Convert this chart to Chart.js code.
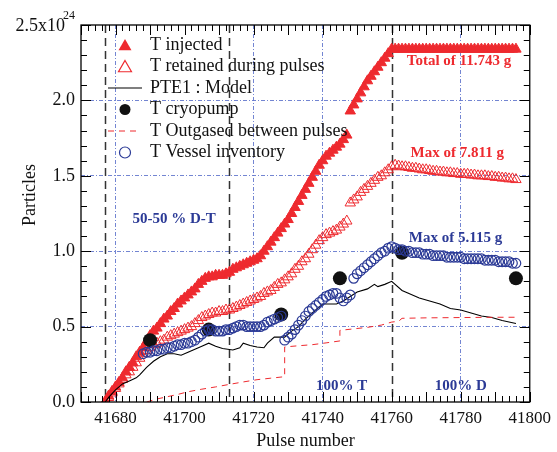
<!DOCTYPE html>
<html>
<head>
<meta charset="utf-8">
<script src="https://cdn.jsdelivr.net/npm/chart.js@4.4.1/dist/chart.umd.min.js"></script>
<style>
  html, body { margin: 0; padding: 0; background: #fff; }
  canvas { display: block; }
</style>
</head>
<body>
<canvas id="chart" width="557" height="452"></canvas>
<script>
// pulse numbers (one shot per pulse)
const pulses = [
  41677, 41678, 41679, 41680, 41681, 41682, 41683, 41684, 41685, 41686,
  41687, 41688, 41689, 41690, 41691, 41692, 41693, 41694, 41695, 41696,
  41697, 41698, 41699, 41700, 41701, 41702, 41703, 41704, 41705, 41706,
  41707, 41708, 41709, 41710, 41711, 41712, 41713, 41714, 41715, 41716,
  41717, 41718, 41719, 41720, 41721, 41722, 41723, 41724, 41725, 41726,
  41727, 41728, 41729, 41730, 41731, 41732, 41733, 41734, 41735, 41736,
  41737, 41738, 41739, 41740, 41741, 41742, 41743, 41744, 41745, 41746,
  41747, 41748, 41749, 41750, 41751, 41752, 41753, 41754, 41755, 41756,
  41757, 41758, 41759, 41760, 41761, 41762, 41763, 41764, 41765, 41766,
  41767, 41768, 41769, 41770, 41771, 41772, 41773, 41774, 41775, 41776,
  41777, 41778, 41779, 41780, 41781, 41782, 41783, 41784, 41785, 41786,
  41787, 41788, 41789, 41790, 41791, 41792, 41793, 41794, 41795, 41796
];

// particles, x10^24
const injected = [
  0.00, 0.04, 0.07, 0.10, 0.13, 0.16, 0.20, 0.23, 0.26, 0.30,
  0.33, 0.36, 0.40, 0.44, 0.47, 0.49, 0.52, 0.55, 0.57, 0.60,
  0.62, 0.65, 0.67, 0.69, 0.71, 0.73, 0.75, 0.78, 0.80, 0.82,
  0.83, 0.83, 0.84, 0.84, 0.84, 0.85, 0.86, 0.88, 0.89, 0.90,
  0.91, 0.92, 0.93, 0.94, 0.95, 0.97, 1.00, 1.03, 1.06, 1.09,
  1.12, 1.15, 1.18, 1.21, 1.25, 1.29, 1.33, 1.37, 1.41, 1.45,
  1.49, 1.53, 1.57, 1.60, 1.63, 1.65, 1.67, 1.69, 1.71, 1.74,
  1.77, 1.93, 1.97, 2.01, 2.05, 2.09, 2.13, 2.16, 2.19, 2.22,
  2.25, 2.28, 2.31, 2.34, 2.34, 2.34, 2.34, 2.34, 2.34, 2.34,
  2.34, 2.34, 2.34, 2.34, 2.34, 2.34, 2.34, 2.34, 2.34, 2.34,
  2.34, 2.34, 2.34, 2.34, 2.34, 2.34, 2.34, 2.34, 2.34, 2.34,
  2.34, 2.34, 2.34, 2.34, 2.34, 2.34, 2.34, 2.34, 2.34, 2.34
];

const retained = [
  0.00, 0.03, 0.06, 0.09, 0.12, 0.15, 0.18, 0.20, 0.23, 0.26,
  0.29, 0.32, 0.34, 0.36, 0.38, 0.39, 0.40, 0.41, 0.43, 0.44,
  0.45, 0.46, 0.47, 0.48, 0.49, 0.50, 0.52, 0.54, 0.56, 0.57,
  0.58, 0.59, 0.59, 0.60, 0.60, 0.61, 0.61, 0.62, 0.63, 0.64,
  0.65, 0.66, 0.67, 0.68, 0.69, 0.70, 0.72, 0.73, 0.74, 0.76,
  0.78, 0.79, 0.81, 0.83, 0.85, 0.88, 0.90, 0.93, 0.95, 0.98,
  1.01, 1.04, 1.07, 1.09, 1.11, 1.12, 1.13, 1.14, 1.16, 1.18,
  1.20, 1.32, 1.34, 1.36, 1.39, 1.41, 1.43, 1.45, 1.47, 1.49,
  1.50, 1.52, 1.54, 1.56, 1.57, 1.565, 1.56, 1.56, 1.555, 1.55,
  1.55, 1.545, 1.54, 1.54, 1.535, 1.53, 1.53, 1.525, 1.525, 1.52,
  1.52, 1.515, 1.515, 1.51, 1.51, 1.51, 1.505, 1.505, 1.50, 1.50,
  1.50, 1.495, 1.495, 1.49, 1.49, 1.485, 1.485, 1.48, 1.48, 1.475
];

// vessel inventory starts at pulse 41688
const vesselPulses = pulses.slice(11);
const vessel = [
  0.32, 0.33, 0.33, 0.34, 0.34, 0.35, 0.35, 0.36, 0.36,
  0.37, 0.38, 0.38, 0.39, 0.39, 0.40, 0.41, 0.43, 0.45, 0.47,
  0.48, 0.48, 0.47, 0.47, 0.47, 0.48, 0.48, 0.49, 0.50, 0.51,
  0.51, 0.50, 0.50, 0.50, 0.50, 0.50, 0.51, 0.53, 0.54, 0.55,
  0.56, 0.57, 0.41, 0.43, 0.45, 0.48, 0.51, 0.54, 0.57, 0.60,
  0.62, 0.64, 0.66, 0.68, 0.70, 0.71, 0.72, 0.72, 0.69, 0.67,
  0.69, 0.71, 0.82, 0.85, 0.87, 0.89, 0.91, 0.93, 0.95, 0.97,
  0.99, 1.00, 1.02, 1.03, 1.02, 1.01, 1.01, 1.00, 1.00, 0.99,
  0.99, 0.99, 0.98, 0.98, 0.98, 0.97, 0.97, 0.97, 0.97, 0.96,
  0.96, 0.96, 0.96, 0.96, 0.95, 0.95, 0.95, 0.95, 0.95, 0.95,
  0.94, 0.94, 0.94, 0.94, 0.93, 0.93, 0.93, 0.93, 0.92, 0.92
];

const cryoPulses = [41690, 41707, 41728, 41745, 41763, 41796];
const cryo = [0.41, 0.48, 0.58, 0.82, 0.99, 0.82];

const modelPulses = [
  41677, 41678, 41680, 41682, 41684, 41686, 41687, 41689, 41691, 41693,
  41695, 41697, 41699, 41701, 41703, 41705, 41707, 41709, 41711, 41714,
  41716, 41717, 41719, 41721, 41723, 41724, 41726, 41729, 41731, 41733,
  41735, 41737, 41740, 41744, 41746, 41748, 41750, 41753, 41755, 41756,
  41758, 41760, 41763, 41765, 41768, 41771, 41774, 41777, 41780, 41783,
  41786, 41789, 41792, 41796
];
const model = [
  0.00, 0.03, 0.08, 0.12, 0.14, 0.16, 0.18, 0.23, 0.27, 0.30,
  0.32, 0.32, 0.31, 0.33, 0.35, 0.37, 0.39, 0.37, 0.355, 0.345,
  0.36, 0.39, 0.375, 0.365, 0.36, 0.39, 0.43, 0.43, 0.47, 0.50,
  0.55, 0.59, 0.65, 0.65, 0.67, 0.70, 0.73, 0.75, 0.78, 0.765,
  0.78, 0.80, 0.74, 0.72, 0.69, 0.67, 0.65, 0.62, 0.61, 0.59,
  0.57, 0.56, 0.54, 0.52
];

const outgasPulses = [
  41689, 41692, 41695, 41698, 41701, 41705, 41709, 41713, 41717, 41721,
  41725, 41729, 41729, 41733, 41737, 41741, 41745, 41745, 41749, 41753,
  41757, 41760, 41762, 41763, 41770, 41780, 41790, 41796
];
const outgassed = [
  0.00, 0.02, 0.035, 0.05, 0.068, 0.085, 0.10, 0.117, 0.133, 0.148,
  0.158, 0.168, 0.365, 0.373, 0.38, 0.392, 0.405, 0.475, 0.485, 0.495,
  0.51, 0.53, 0.535, 0.555, 0.558, 0.56, 0.562, 0.562
];

// campaign boundaries
const phaseLines = [41677, 41713, 41760];

const xTicks = [41680, 41700, 41720, 41740, 41760, 41780, 41800];
const xGridAt = [41680, 41720, 41740, 41780];
const yTicks = [0, 0.5, 1.0, 1.5, 2.0, 2.5];

const legendLabels = [
  'T injected',
  'T retained during pulses',
  'PTE1 : Model',
  'T cryopump',
  'T Outgased between pulses',
  'T Vessel inventory'
];

const RED = '#ee2a2f';
const BLUE = '#2b3a96';
const GRID = 'rgba(100,120,205,0.9)';
const SERIF = "'Liberation Serif', 'Times New Roman', serif";

const notes = [
  { text: 'Total of 11.743 g', x: 41779.5, y: 2.26, color: RED },
  { text: 'Max of 7.811 g', x: 41779, y: 1.65, color: RED },
  { text: 'Max of 5.115 g', x: 41778.5, y: 1.09, color: BLUE },
  { text: '50-50 % D-T', x: 41697, y: 1.21, color: BLUE },
  { text: '100% T', x: 41745.5, y: 0.106, color: BLUE },
  { text: '100% D', x: 41780, y: 0.106, color: BLUE }
];

function xy(xs, ys) {
  return ys.map((v, i) => ({ x: xs[i], y: v }));
}

function triPath(ctx, x, y, r) {
  ctx.beginPath();
  ctx.moveTo(x, y - r);
  ctx.lineTo(x + r * 0.866, y + r / 2);
  ctx.lineTo(x - r * 0.866, y + r / 2);
  ctx.closePath();
}

const framePlugin = {
  id: 'frame',
  beforeDatasetsDraw(chart) {
    const { ctx, chartArea: a, scales: { x } } = chart;
    ctx.save();
    ctx.strokeStyle = '#333';
    ctx.lineWidth = 1.5;
    ctx.setLineDash([8, 5]);
    phaseLines.forEach(p => {
      const px = Math.round(x.getPixelForValue(p)) + 0.5;
      ctx.beginPath();
      ctx.moveTo(px, a.top);
      ctx.lineTo(px, a.bottom);
      ctx.stroke();
    });
    ctx.restore();
  },
  afterDraw(chart) {
    const { ctx, chartArea: a, scales: { x, y } } = chart;
    ctx.save();

    // box + inward ticks
    ctx.strokeStyle = '#000';
    ctx.lineWidth = 1.3;
    ctx.strokeRect(a.left, a.top, a.right - a.left, a.bottom - a.top);
    ctx.lineWidth = 1;
    ctx.beginPath();
    for (let i = 0; i <= 65; i++) {
      const v = 41670 + 2 * i;
      const len = v % 10 === 0 ? 10 : 6;
      const px = Math.round(x.getPixelForValue(v)) + 0.5;
      ctx.moveTo(px, a.bottom); ctx.lineTo(px, a.bottom - len);
      ctx.moveTo(px, a.top); ctx.lineTo(px, a.top + len);
    }
    for (let i = 0; i <= 25; i++) {
      const len = i % 5 === 0 ? 10 : 6;
      const py = Math.round(y.getPixelForValue(i / 10)) + 0.5;
      ctx.moveTo(a.left, py); ctx.lineTo(a.left + len, py);
      ctx.moveTo(a.right, py); ctx.lineTo(a.right - len, py);
    }
    ctx.stroke();

    // top y label with exponent
    ctx.fillStyle = '#111';
    ctx.textBaseline = 'middle';
    ctx.textAlign = 'right';
    ctx.font = '18px ' + SERIF;
    const yTop = y.getPixelForValue(2.5);
    ctx.fillText('2.5x10', a.left - 16, yTop + 1);
    ctx.font = '12px ' + SERIF;
    ctx.fillText('24', a.left - 6, yTop - 9);

    // axis titles
    ctx.font = '18px ' + SERIF;
    ctx.textAlign = 'center';
    ctx.fillText('Pulse number', (a.left + a.right) / 2, 441);
    ctx.save();
    ctx.translate(30, 195);
    ctx.rotate(-Math.PI / 2);
    ctx.fillText('Particles', 0, 0);
    ctx.restore();

    // annotations
    ctx.font = 'bold 15px ' + SERIF;
    notes.forEach(n => {
      ctx.fillStyle = n.color;
      ctx.fillText(n.text, x.getPixelForValue(n.x), y.getPixelForValue(n.y));
    });

    // legend
    const mx = 125, tx = 150;
    legendLabels.forEach((label, i) => {
      const ly = 45 + i * 21.5;
      ctx.setLineDash([]);
      if (i === 0) {
        ctx.fillStyle = RED;
        triPath(ctx, mx, ly + 1.5, 7.5);
        ctx.fill();
      } else if (i === 1) {
        ctx.strokeStyle = RED;
        ctx.lineWidth = 1.2;
        triPath(ctx, mx, ly + 1.5, 7.5);
        ctx.stroke();
      } else if (i === 2) {
        ctx.strokeStyle = '#000';
        ctx.lineWidth = 1.2;
        ctx.beginPath(); ctx.moveTo(108, ly); ctx.lineTo(142, ly); ctx.stroke();
      } else if (i === 3) {
        ctx.fillStyle = '#111';
        ctx.beginPath(); ctx.arc(mx, ly, 5.5, 0, Math.PI * 2); ctx.fill();
      } else if (i === 4) {
        ctx.strokeStyle = RED;
        ctx.lineWidth = 1;
        ctx.setLineDash([6, 5]);
        ctx.beginPath(); ctx.moveTo(108, ly); ctx.lineTo(140, ly); ctx.stroke();
      } else {
        ctx.strokeStyle = BLUE;
        ctx.lineWidth = 1.2;
        ctx.beginPath(); ctx.arc(mx, ly, 5.5, 0, Math.PI * 2); ctx.stroke();
      }
      ctx.fillStyle = '#111';
      ctx.font = '18px ' + SERIF;
      ctx.textAlign = 'left';
      ctx.fillText(label, tx, ly);
    });

    ctx.restore();
  }
};

new Chart(document.getElementById('chart'), {
  type: 'scatter',
  data: {
    datasets: [
      {
        label: legendLabels[0],
        data: xy(pulses, injected),
        order: 6,
        pointStyle: 'triangle',
        pointRadius: 6,
        backgroundColor: RED,
        borderColor: RED,
        borderWidth: 1
      },
      {
        label: legendLabels[1],
        data: xy(pulses, retained),
        order: 5,
        pointStyle: 'triangle',
        pointRadius: 6,
        backgroundColor: 'rgba(255,255,255,0)',
        borderColor: RED,
        borderWidth: 1
      },
      {
        label: legendLabels[2],
        data: xy(modelPulses, model),
        order: 4,
        showLine: true,
        pointRadius: 0,
        borderColor: '#000',
        borderWidth: 1.1
      },
      {
        label: legendLabels[3],
        data: xy(cryoPulses, cryo),
        order: 3,
        pointStyle: 'circle',
        pointRadius: 7,
        backgroundColor: '#111',
        borderColor: '#111',
        borderWidth: 0
      },
      {
        label: legendLabels[4],
        data: xy(outgasPulses, outgassed),
        order: 2,
        showLine: true,
        pointRadius: 0,
        borderColor: RED,
        borderWidth: 1,
        borderDash: [6, 5]
      },
      {
        label: legendLabels[5],
        data: xy(vesselPulses, vessel),
        order: 1,
        pointStyle: 'circle',
        pointRadius: 4.8,
        backgroundColor: 'rgba(255,255,255,0)',
        borderColor: BLUE,
        borderWidth: 1.2
      }
    ]
  },
  options: {
    responsive: false,
    animation: false,
    events: [],
    layout: { padding: { top: 25, right: 24, left: 0, bottom: 0 } },
    plugins: {
      legend: { display: false },
      tooltip: { enabled: false }
    },
    scales: {
      x: {
        type: 'linear',
        min: 41670,
        max: 41800,
        afterBuildTicks: s => { s.ticks = xTicks.map(v => ({ value: v })); },
        afterFit: s => { s.height = 50; },
        ticks: {
          font: { family: SERIF, size: 17 },
          color: '#111',
          padding: 6,
          maxRotation: 0,
          autoSkip: false,
          callback: v => String(v)
        },
        grid: {
          drawTicks: false,
          lineWidth: 1,
          color: c => (c.tick && xGridAt.includes(c.tick.value)) ? GRID : 'rgba(0,0,0,0)'
        },
        border: { display: false, dash: [4, 2, 1, 2] }
      },
      y: {
        type: 'linear',
        min: 0,
        max: 2.5,
        afterBuildTicks: s => { s.ticks = yTicks.map(v => ({ value: v })); },
        afterFit: s => { s.width = 81; },
        ticks: {
          font: { family: SERIF, size: 18 },
          color: '#111',
          padding: 6,
          callback: v => v === 2.5 ? '' : v.toFixed(1)
        },
        grid: {
          drawTicks: false,
          lineWidth: 1,
          color: c => (c.tick && c.tick.value > 0 && c.tick.value < 2.5) ? GRID : 'rgba(0,0,0,0)'
        },
        border: { display: false, dash: [4, 2, 1, 2] }
      }
    }
  },
  plugins: [framePlugin]
});
</script>
</body>
</html>
